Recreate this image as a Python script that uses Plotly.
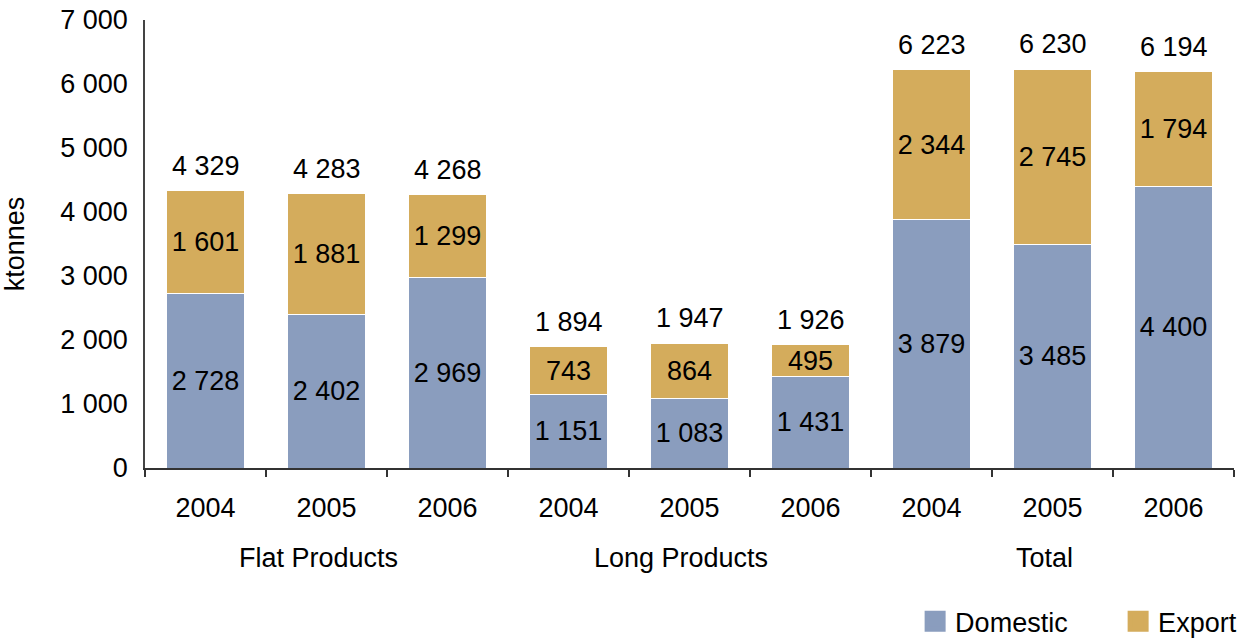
import plotly.graph_objects as go

groups = ["Flat Products", "Long Products", "Total"]
years = ["2004", "2005", "2006"]
series_names = ["Domestic", "Export"]
domestic = [2728, 2402, 2969, 1151, 1083, 1431, 3879, 3485, 4400]
export = [1601, 1881, 1299, 743, 864, 495, 2344, 2745, 1794]
totals = [4329, 4283, 4268, 1894, 1947, 1926, 6223, 6230, 6194]

x = list(range(len(domestic)))
tick_text = years * len(groups)

FONT = "Arial, Liberation Sans, sans-serif"
FS = 27
BLUE = "#8A9DBE"
GOLD = "#D4AC5C"

fig = go.Figure()
common = dict(width=0.65, texttemplate="%{y:,d}", textposition="inside",
              insidetextanchor="middle", textangle=0, showlegend=False,
              textfont=dict(size=FS, color="black", family=FONT))
for name, vals, col in zip(series_names, [domestic, export], [BLUE, GOLD]):
    fig.add_bar(x=x, y=vals, name=name, legendgroup=name,
                marker=dict(color=col, line=dict(color="white", width=1)), **common)
    # legend entry with a larger square swatch
    fig.add_scatter(x=[None], y=[None], mode="markers", name=name, legendgroup=name,
                    marker=dict(symbol="square", size=16, color=col,
                                line=dict(color=col, width=5)))

def fmt(v):
    return f"{v:,}".replace(",", " ")

for xi, t in zip(x, totals):
    fig.add_annotation(x=xi, y=t, text=fmt(t), showarrow=False,
                       yanchor="bottom", yshift=8,
                       font=dict(size=FS, color="black", family=FONT))

for gi, g in enumerate(groups):
    fig.add_annotation(x=gi * 3 + 1 - 0.07, y=-0.2, yref="paper", text=g,
                       showarrow=False, yanchor="middle",
                       font=dict(size=FS, color="black", family=FONT))

fig.update_layout(
    barmode="stack",
    width=1242, height=642,
    margin=dict(l=145, r=8, t=20, b=174, autoexpand=False),
    plot_bgcolor="white", paper_bgcolor="white",
    separators=". ",
    font=dict(family=FONT, size=FS, color="black"),
    uniformtext=dict(minsize=FS, mode="show"),
    legend=dict(orientation="h", x=1.08, xanchor="right", y=-0.343, yanchor="middle",
                font=dict(size=FS), traceorder="normal", entrywidth=158,
                itemwidth=30),
)
fig.update_xaxes(range=[-0.5, 8.5], tickmode="array", tickvals=x, ticktext=tick_text,
                 showline=True, linecolor="#333", linewidth=1.5, showgrid=False,
                 zeroline=False, ticks="", automargin=False,
                 minor=dict(ticks="outside", tick0=0.5, dtick=1, ticklen=7,
                            tickcolor="#333", tickwidth=1.5, showgrid=False),
                 ticklabelstandoff=15)
fig.update_yaxes(range=[0, 7000], dtick=1000, tickformat=",d", showline=True,
                 linecolor="#444", linewidth=1.5, showgrid=False, zeroline=False,
                 ticks="", ticklabelstandoff=10, automargin=False,
                 title=dict(text="ktonnes", font=dict(size=FS), standoff=36))

fig.write_html("out.html", config={"displayModeBar": False},
               post_script="document.body.style.margin='0';document.body.style.overflow='hidden';")
